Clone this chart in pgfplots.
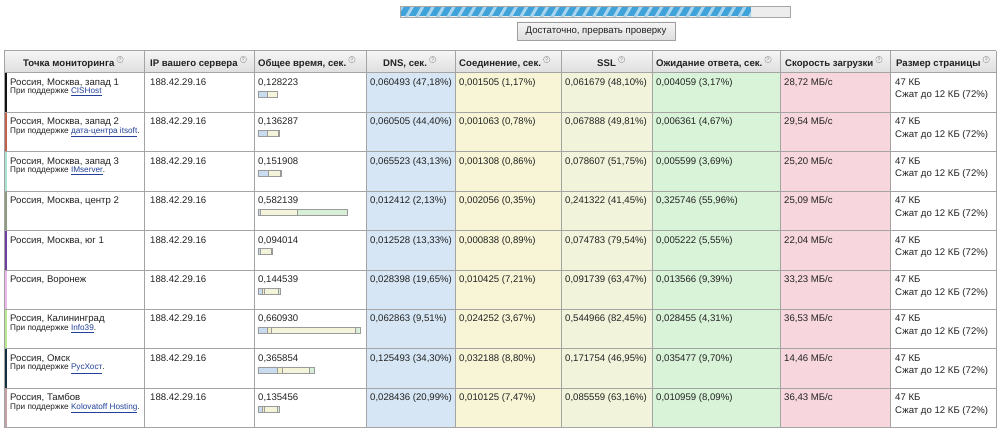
\documentclass[border=0pt]{standalone}
\usepackage{fontspec}
\setmainfont{Liberation Sans}
\usepackage{pgfplots}
\usepackage{pgfplotstable}
\pgfplotsset{compat=1.18}
\usetikzlibrary{patterns.meta}

\definecolor{txt}{HTML}{222222}
\definecolor{lnk}{HTML}{23419A}
\definecolor{gridc}{HTML}{A4A4A4}
\definecolor{cdns}{HTML}{D6E6F5}
\definecolor{ccon}{HTML}{F7F5D5}
\definecolor{cssl}{HTML}{F1F4DA}
\definecolor{cwait}{HTML}{D8F3D8}
\definecolor{cspd}{HTML}{F7D6DE}
\definecolor{hdtop}{HTML}{F5F5F5}
\definecolor{hdbot}{HTML}{DEDEDE}
\definecolor{bdns}{HTML}{CADDF0}
\definecolor{bcon}{HTML}{F3F0C8}
\definecolor{bssl}{HTML}{F4F4DA}
\definecolor{bwait}{HTML}{D6EFD6}
\definecolor{bbord}{HTML}{9A9A9A}
\definecolor{pbar}{HTML}{3FA2D9}
\definecolor{pbg}{HTML}{EDEDED}
\definecolor{s1}{HTML}{111111}
\definecolor{s2}{HTML}{C2604A}
\definecolor{s3}{HTML}{A8E2D2}
\definecolor{s4}{HTML}{8E9C80}
\definecolor{s5}{HTML}{6A3FA0}
\definecolor{s6}{HTML}{EAB8EA}
\definecolor{s7}{HTML}{B8E890}
\definecolor{s8}{HTML}{153040}
\definecolor{s9}{HTML}{C2A2A2}

\newcommand\mf{\fontsize{9.6}{11}\selectfont}
\newcommand\smf{\fontsize{8.2}{9}\selectfont}
\newcommand\hf{\fontsize{9.6}{11}\selectfont\bfseries}

\tikzset{T/.style={anchor=base west, inner sep=0pt, font=\mf, text=txt},
 S/.style={anchor=base west, inner sep=0pt, font=\smf, text=txt}}

\newcommand{\hdr}[3]{%
\node[anchor=base west, inner sep=0pt, font=\hf, text=txt] (#1) at (axis cs:#2,66.5) {#3};
\node[circle, draw=gray!80, inner sep=0pt, minimum size=6.5pt, font=\fontsize{5}{5}\selectfont, text=gray] at ([xshift=5.5pt, yshift=7pt]#1.base east) {?};}

\newcommand{\R}[9]{%
\node[T] at (axis cs:10,#1) {#2};
\node[T] at (axis cs:150,#1) {188.42.29.16};
\node[T] at (axis cs:258,#1) {#3};
\node[T] at (axis cs:370,#1) {#4};
\node[T] at (axis cs:459,#1) {#5};
\node[T] at (axis cs:565,#1) {#6};
\node[T] at (axis cs:656,#1) {#7};
\node[T] at (axis cs:784,#1) {#8 МБ/с};
\node[T] at (axis cs:895,#1) {47 КБ};
\node[T] at (axis cs:895,#9) {Сжат до 12 КБ (72\%)};}

\newcommand{\sub}[3]{\node[S] at (axis cs:10,#1) {При поддержке \textcolor{lnk}{\underline{#2}}#3};}

\pgfplotstableread{
y dns con ssl wait
94 0.060493 0.001505 0.061679 0.004059
133.4 0.060505 0.001063 0.067888 0.006361
172.8 0.065523 0.001308 0.078607 0.005599
212.2 0.012412 0.002056 0.241322 0.325746
251.6 0.012528 0.000838 0.074783 0.005222
291 0.028398 0.010425 0.091739 0.013566
330.4 0.062863 0.024252 0.544966 0.028455
369.8 0.125493 0.032188 0.171754 0.035477
409.2 0.028436 0.010125 0.085559 0.010959
}\bars

\begin{document}
\begin{tikzpicture}
\begin{axis}[width=1000pt, height=433pt, scale only axis, hide axis,
 xmin=0, xmax=1000, ymin=0, ymax=433, y dir=reverse, clip=false]
\fill[white] (axis cs:0,0) rectangle (axis cs:1000,433);
% progress bar
\fill[pbg] (axis cs:400,6) rectangle (axis cs:790,17);
\fill[preaction={fill=pbar}, pattern={Lines[angle=60, distance=9pt, line width=3pt]}, pattern color=white!55!pbar] (axis cs:401,6.5) rectangle (axis cs:751,16.5);
\draw[gray!70] (axis cs:400,6) rectangle (axis cs:790,17);
% button
\shade[top color=hdtop, bottom color=hdbot] (axis cs:517,22) rectangle (axis cs:675,40);
\draw[gray!75] (axis cs:517,22) rectangle (axis cs:675,40);
\node[font=\mf, text=txt, inner sep=0pt] at (axis cs:596,31) {Достаточно, прервать проверку};
% header
\shade[top color=hdtop, bottom color=hdbot] (axis cs:4,51) rectangle (axis cs:996,73);
% column fills
\fill[cdns] (axis cs:366,73) rectangle (axis cs:455,427.6);
\fill[ccon] (axis cs:455,73) rectangle (axis cs:561,427.6);
\fill[cssl] (axis cs:561,73) rectangle (axis cs:652,427.6);
\fill[cwait] (axis cs:652,73) rectangle (axis cs:780,427.6);
\fill[cspd] (axis cs:780,73) rectangle (axis cs:890,427.6);
% stripes
\fill[s1] (axis cs:4,73) rectangle (axis cs:7,112.4);
\fill[s2] (axis cs:4,112.4) rectangle (axis cs:7,151.8);
\fill[s3] (axis cs:4,151.8) rectangle (axis cs:7,191.2);
\fill[s4] (axis cs:4,191.2) rectangle (axis cs:7,230.6);
\fill[s5] (axis cs:4,230.6) rectangle (axis cs:7,270);
\fill[s6] (axis cs:4,270) rectangle (axis cs:7,309.4);
\fill[s7] (axis cs:4,309.4) rectangle (axis cs:7,348.8);
\fill[s8] (axis cs:4,348.8) rectangle (axis cs:7,388.2);
\fill[s9] (axis cs:4,388.2) rectangle (axis cs:7,427.6);
% grid
\draw[gridc, line width=1pt] (axis cs:4,51) -- (axis cs:996,51);
\draw[gridc, line width=1pt] (axis cs:4,73) -- (axis cs:996,73);
\draw[gridc, line width=1pt] (axis cs:4,112.4) -- (axis cs:996,112.4);
\draw[gridc, line width=1pt] (axis cs:4,151.8) -- (axis cs:996,151.8);
\draw[gridc, line width=1pt] (axis cs:4,191.2) -- (axis cs:996,191.2);
\draw[gridc, line width=1pt] (axis cs:4,230.6) -- (axis cs:996,230.6);
\draw[gridc, line width=1pt] (axis cs:4,270) -- (axis cs:996,270);
\draw[gridc, line width=1pt] (axis cs:4,309.4) -- (axis cs:996,309.4);
\draw[gridc, line width=1pt] (axis cs:4,348.8) -- (axis cs:996,348.8);
\draw[gridc, line width=1pt] (axis cs:4,388.2) -- (axis cs:996,388.2);
\draw[gridc, line width=1pt] (axis cs:4,427.6) -- (axis cs:996,427.6);
\draw[gridc, line width=1pt] (axis cs:4,51) -- (axis cs:4,427.6);
\draw[gridc, line width=1pt] (axis cs:144,51) -- (axis cs:144,427.6);
\draw[gridc, line width=1pt] (axis cs:254,51) -- (axis cs:254,427.6);
\draw[gridc, line width=1pt] (axis cs:366,51) -- (axis cs:366,427.6);
\draw[gridc, line width=1pt] (axis cs:455,51) -- (axis cs:455,427.6);
\draw[gridc, line width=1pt] (axis cs:561,51) -- (axis cs:561,427.6);
\draw[gridc, line width=1pt] (axis cs:652,51) -- (axis cs:652,427.6);
\draw[gridc, line width=1pt] (axis cs:780,51) -- (axis cs:780,427.6);
\draw[gridc, line width=1pt] (axis cs:890,51) -- (axis cs:890,427.6);
\draw[gridc, line width=1pt] (axis cs:996,51) -- (axis cs:996,427.6);
% header texts
\hdr{h1}{23}{Точка мониторинга}
\hdr{h2}{150}{IP вашего сервера}
\hdr{h3}{258}{Общее время, сек.}
\hdr{h4}{383}{DNS, сек.}
\hdr{h5}{459}{Соединение, сек.}
\hdr{h6}{597}{SSL}
\hdr{h7}{656}{Ожидание ответа, сек.}
\hdr{h8}{785}{Скорость загрузки}
\hdr{h9}{896}{Размер страницы}
% rows
\R{85.4}{Россия, Москва, запад 1}{0,128223}{0,060493 (47,18\%)}{0,001505 (1,17\%)}{0,061679 (48,10\%)}{0,004059 (3,17\%)}{28,72}{98}
\sub{94}{CISHost}{}
\R{124.8}{Россия, Москва, запад 2}{0,136287}{0,060505 (44,40\%)}{0,001063 (0,78\%)}{0,067888 (49,81\%)}{0,006361 (4,67\%)}{29,54}{137.4}
\sub{133.4}{дата-центра itsoft}{.}
\R{164.2}{Россия, Москва, запад 3}{0,151908}{0,065523 (43,13\%)}{0,001308 (0,86\%)}{0,078607 (51,75\%)}{0,005599 (3,69\%)}{25,20}{176.8}
\sub{172.8}{IMserver}{.}
\R{203.6}{Россия, Москва, центр 2}{0,582139}{0,012412 (2,13\%)}{0,002056 (0,35\%)}{0,241322 (41,45\%)}{0,325746 (55,96\%)}{25,09}{216.2}
\R{243}{Россия, Москва, юг 1}{0,094014}{0,012528 (13,33\%)}{0,000838 (0,89\%)}{0,074783 (79,54\%)}{0,005222 (5,55\%)}{22,04}{255.6}
\R{282.4}{Россия, Воронеж}{0,144539}{0,028398 (19,65\%)}{0,010425 (7,21\%)}{0,091739 (63,47\%)}{0,013566 (9,39\%)}{33,23}{295}
\R{321.8}{Россия, Калининград}{0,660930}{0,062863 (9,51\%)}{0,024252 (3,67\%)}{0,544966 (82,45\%)}{0,028455 (4,31\%)}{36,53}{334.4}
\sub{330.4}{Info39}{.}
\R{361.2}{Россия, Омск}{0,365854}{0,125493 (34,30\%)}{0,032188 (8,80\%)}{0,171754 (46,95\%)}{0,035477 (9,70\%)}{14,46}{373.8}
\sub{369.8}{РусХост}{.}
\R{400.6}{Россия, Тамбов}{0,135456}{0,028436 (20,99\%)}{0,010125 (7,47\%)}{0,085559 (63,16\%)}{0,010959 (8,09\%)}{36,43}{413.2}
\sub{409.2}{Kolovatoff Hosting}{.}
\end{axis}
\begin{axis}[width=1000pt, height=433pt, scale only axis, hide axis,
 xmin=-1.6753, xmax=4.8182, ymin=0, ymax=433, y dir=reverse,
 xbar stacked, bar width=6pt]
\addplot[draw=bbord, fill=bdns] table[x=dns, y=y] {\bars};
\addplot[draw=bbord, fill=bcon] table[x=con, y=y] {\bars};
\addplot[draw=bbord, fill=bssl] table[x=ssl, y=y] {\bars};
\addplot[draw=bbord, fill=bwait] table[x=wait, y=y] {\bars};
\end{axis}
\end{tikzpicture}
\end{document}
